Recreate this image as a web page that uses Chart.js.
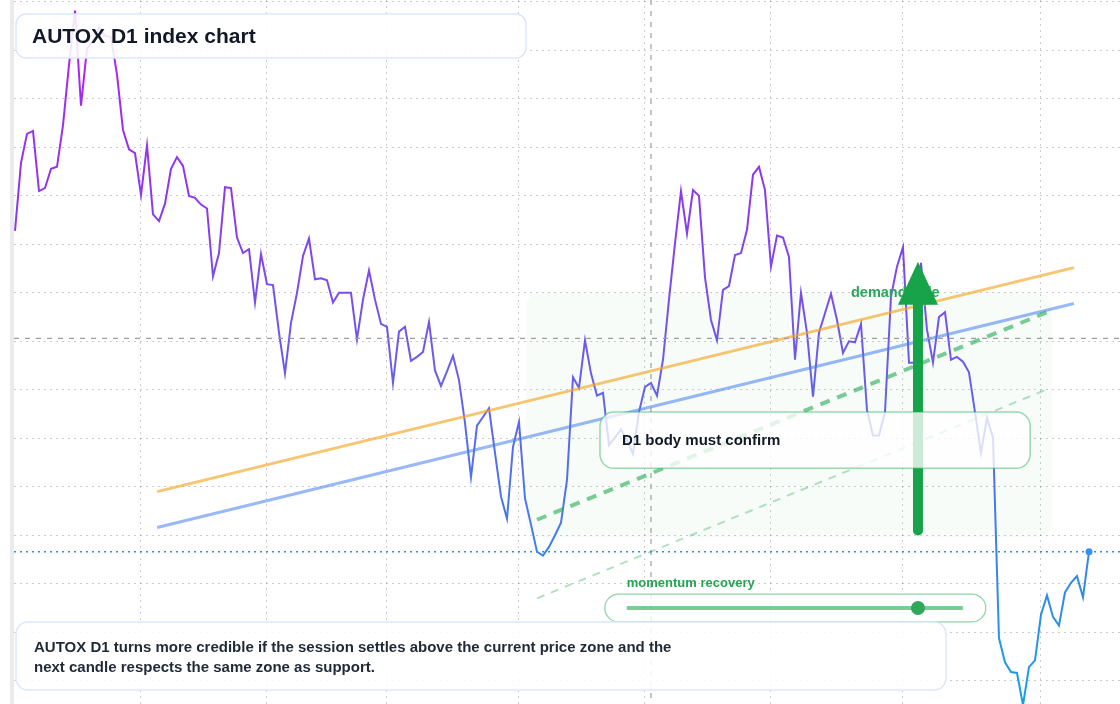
<!DOCTYPE html>
<html>
<head>
<meta charset="utf-8">
<title>AUTOX D1 index chart</title>
<script src="https://cdn.jsdelivr.net/npm/chart.js@4.4.1/dist/chart.umd.min.js"></script>
<style>
  html, body { margin: 0; padding: 0; background: #fff; }
  #wrap { position: relative; width: 1120px; height: 704px; overflow: hidden; }
  canvas { display: block; }
</style>
</head>
<body>
<div id="wrap"><canvas id="chart" width="1120" height="704"></canvas></div>
<script>
// daily closes, one per session
const closes = [
  1464, 1534, 1564, 1567, 1505, 1508, 1528, 1530, 1573, 1635,
  1691, 1593, 1652, 1659, 1674, 1665, 1664, 1625, 1568, 1548,
  1544, 1501, 1552, 1481, 1474, 1492, 1528, 1540, 1531, 1500,
  1498, 1491, 1487, 1417, 1441, 1509, 1508, 1457, 1441, 1445,
  1390, 1440, 1409, 1408, 1359, 1317, 1369, 1400, 1438, 1456,
  1414, 1415, 1413, 1390, 1400, 1400, 1400, 1352, 1393, 1423,
  1393, 1368, 1365, 1307, 1360, 1365, 1330, 1334, 1339, 1370,
  1320, 1304, 1319, 1335, 1310, 1266, 1210, 1263, 1272, 1281,
  1235, 1190, 1167, 1241, 1267, 1188, 1161, 1133, 1129, 1138,
  1150, 1163, 1207, 1313, 1302, 1351, 1317, 1294, 1297, 1243,
  1251, 1259, 1248, 1234, 1277, 1303, 1307, 1294, 1331, 1393,
  1451, 1505, 1461, 1506, 1500, 1416, 1372, 1351, 1403, 1407,
  1439, 1441, 1465, 1522, 1530, 1506, 1427, 1459, 1457, 1437,
  1331, 1400, 1359, 1293, 1359, 1379, 1399, 1372, 1338, 1350,
  1349, 1368, 1279, 1253, 1253, 1277, 1396, 1427, 1447, 1328,
  1328, 1431, 1362, 1328, 1375, 1380, 1331, 1334, 1329, 1318,
  1277, 1235, 1271, 1251, 1044, 1019, 1009, 1008, 975, 1014,
  1021, 1068, 1088, 1066, 1057, 1091, 1101, 1108, 1086, 1133
];

// session index where each month starts (vertical grid)
const monthTicks = [21, 42, 62, 84, 105, 126, 148, 171];
// price grid levels
const priceTicks = [1000, 1050, 1100, 1150, 1200, 1250, 1300, 1350, 1400, 1450, 1500, 1550, 1600, 1650, 1700];

// drawn levels: [session, price]
const upperTrend = [[23.7, 1195], [176.5, 1426]];
const lowerTrend = [[23.7, 1158], [176.5, 1389]];
const supportLine = [[87, 1166], [172, 1380]];
const supportFloor = [[87, 1085], [172.2, 1301]];
const demandZone = [[85.2, 1401], [172.8, 1148]];
const crossSession = 106;
const crossPrice = 1353;
const demandArrow = [[150.5, 1155], [150.5, 1432]];
const confirmBox = [[97.5, 1277], [169.2, 1219]];
const momentumBar = [[98.3, 1089.4], [161.8, 1060.6]];
const momentumValue = 150.5;

const titleText = 'AUTOX D1 index chart';
const noteLines = [
  'AUTOX D1 turns more credible if the session settles above the current price zone and the',
  'next candle respects the same zone as support.'
];

const FONT = '"Liberation Sans", Arial, Helvetica, sans-serif';

function lineGradient(context) {
  const chart = context.chart;
  const area = chart.chartArea;
  if (!area) return '#7c4dff';
  const g = chart.ctx.createLinearGradient(0, area.top, 0, area.bottom);
  g.addColorStop(0, '#b31ef3');
  g.addColorStop(0.28, '#8e37f0');
  g.addColorStop(0.52, '#6a5cec');
  g.addColorStop(0.78, '#3c80f2');
  g.addColorStop(1, '#11a2e8');
  return g;
}

function roundBox(ctx, x0, y0, x1, y1, r) {
  ctx.beginPath();
  ctx.moveTo(x0 + r, y0);
  ctx.arcTo(x1, y0, x1, y1, r);
  ctx.arcTo(x1, y1, x0, y1, r);
  ctx.arcTo(x0, y1, x0, y0, r);
  ctx.arcTo(x0, y0, x1, y0, r);
  ctx.closePath();
}

function segment(ctx, sx, sy, pts, color, width, dash) {
  ctx.beginPath();
  ctx.setLineDash(dash || []);
  ctx.strokeStyle = color;
  ctx.lineWidth = width;
  ctx.moveTo(sx.getPixelForValue(pts[0][0]), sy.getPixelForValue(pts[0][1]));
  ctx.lineTo(sx.getPixelForValue(pts[1][0]), sy.getPixelForValue(pts[1][1]));
  ctx.stroke();
}

const overlay = {
  id: 'overlay',
  beforeDatasetsDraw(chart) {
    const ctx = chart.ctx;
    const a = chart.chartArea;
    const sx = chart.scales.x, sy = chart.scales.y;
    ctx.save();
    ctx.fillStyle = '#ebebeb';
    ctx.fillRect(a.left - 4, 0, 4, chart.height);

    roundBox(ctx,
      sx.getPixelForValue(demandZone[0][0]), sy.getPixelForValue(demandZone[0][1]),
      sx.getPixelForValue(demandZone[1][0]), sy.getPixelForValue(demandZone[1][1]), 14);
    ctx.fillStyle = 'rgba(34, 170, 80, 0.035)';
    ctx.fill();
    ctx.restore();
  },
  afterDatasetsDraw(chart) {
    const ctx = chart.ctx;
    const a = chart.chartArea;
    const sx = chart.scales.x, sy = chart.scales.y;
    ctx.save();

    // trend channel
    segment(ctx, sx, sy, upperTrend, 'rgba(245, 166, 35, 0.65)', 3);
    segment(ctx, sx, sy, lowerTrend, 'rgba(70, 125, 240, 0.55)', 3);
    segment(ctx, sx, sy, supportLine, 'rgba(34, 170, 80, 0.6)', 4, [10, 8]);
    segment(ctx, sx, sy, supportFloor, 'rgba(34, 170, 80, 0.35)', 2, [8, 7]);

    // crosshair
    const cx = sx.getPixelForValue(crossSession);
    const cy = sy.getPixelForValue(crossPrice);
    ctx.setLineDash([5, 6]);
    ctx.strokeStyle = '#9e9e9e';
    ctx.lineWidth = 1.2;
    ctx.beginPath();
    ctx.moveTo(a.left, cy); ctx.lineTo(a.right, cy);
    ctx.moveTo(cx, a.top); ctx.lineTo(cx, a.bottom);
    ctx.stroke();

    // last price
    const ly = sy.getPixelForValue(closes[closes.length - 1]);
    ctx.setLineDash([2, 4]);
    ctx.strokeStyle = '#2a8cf0';
    ctx.lineWidth = 1.5;
    ctx.beginPath();
    ctx.moveTo(a.left, ly); ctx.lineTo(a.right, ly);
    ctx.stroke();
    ctx.setLineDash([]);

    // demand label and arrow
    const ax = sx.getPixelForValue(demandArrow[0][0]);
    const ay0 = sy.getPixelForValue(demandArrow[0][1]);
    const ay1 = sy.getPixelForValue(demandArrow[1][1]);
    ctx.font = 'bold 14.5px ' + FONT;
    ctx.fillStyle = '#27a85a';
    ctx.textBaseline = 'middle';
    ctx.fillText('demand side', ax - 67, ay1 + 31);

    ctx.strokeStyle = '#16a34a';
    ctx.lineWidth = 10;
    ctx.lineCap = 'round';
    ctx.beginPath();
    ctx.moveTo(ax, ay0);
    ctx.lineTo(ax, ay1 + 30);
    ctx.stroke();
    ctx.lineCap = 'butt';
    ctx.fillStyle = '#16a34a';
    ctx.beginPath();
    ctx.moveTo(ax, ay1);
    ctx.lineTo(ax + 20, ay1 + 43);
    ctx.lineTo(ax - 20, ay1 + 43);
    ctx.closePath();
    ctx.fill();

    // confirmation box
    const bx0 = sx.getPixelForValue(confirmBox[0][0]);
    const by0 = sy.getPixelForValue(confirmBox[0][1]);
    const bx1 = sx.getPixelForValue(confirmBox[1][0]);
    const by1 = sy.getPixelForValue(confirmBox[1][1]);
    roundBox(ctx, bx0, by0, bx1, by1, 14);
    ctx.fillStyle = 'rgba(255, 255, 255, 0.78)';
    ctx.fill();
    ctx.strokeStyle = 'rgba(34, 170, 80, 0.45)';
    ctx.lineWidth = 1.5;
    ctx.stroke();
    ctx.font = 'bold 15px ' + FONT;
    ctx.fillStyle = '#111827';
    ctx.fillText('D1 body must confirm', bx0 + 22, (by0 + by1) / 2 + 1);

    // momentum gauge
    const mx0 = sx.getPixelForValue(momentumBar[0][0]);
    const my0 = sy.getPixelForValue(momentumBar[0][1]);
    const mx1 = sx.getPixelForValue(momentumBar[1][0]);
    const my1 = sy.getPixelForValue(momentumBar[1][1]);
    ctx.font = 'bold 13px ' + FONT;
    ctx.fillStyle = '#22a553';
    ctx.fillText('momentum recovery', mx0 + 22, my0 - 11);
    roundBox(ctx, mx0, my0, mx1, my1, (my1 - my0) / 2);
    ctx.fillStyle = 'rgba(255, 255, 255, 0.8)';
    ctx.fill();
    ctx.strokeStyle = 'rgba(34, 170, 80, 0.5)';
    ctx.lineWidth = 1.3;
    ctx.stroke();
    const my = (my0 + my1) / 2;
    ctx.strokeStyle = 'rgba(34, 170, 80, 0.6)';
    ctx.lineWidth = 4;
    ctx.beginPath();
    ctx.moveTo(mx0 + 22, my);
    ctx.lineTo(mx1 - 23, my);
    ctx.stroke();
    ctx.fillStyle = '#2fa85a';
    ctx.beginPath();
    ctx.arc(sx.getPixelForValue(momentumValue), my, 7, 0, Math.PI * 2);
    ctx.fill();

    // title card
    roundBox(ctx, a.left + 2, 14, 526, 58, 10);
    ctx.fillStyle = 'rgba(255, 255, 255, 0.88)';
    ctx.fill();
    ctx.strokeStyle = '#dbe7fb';
    ctx.lineWidth = 1.5;
    ctx.stroke();
    ctx.font = 'bold 21px ' + FONT;
    ctx.fillStyle = '#111827';
    ctx.fillText(titleText, a.left + 18, 37);

    // note card
    roundBox(ctx, a.left + 2, 622, 946, 690, 12);
    ctx.fillStyle = 'rgba(255, 255, 255, 0.88)';
    ctx.fill();
    ctx.strokeStyle = '#dbe7fb';
    ctx.stroke();
    ctx.font = 'bold 15px ' + FONT;
    ctx.fillStyle = '#1f2937';
    noteLines.forEach((t, i) => ctx.fillText(t, a.left + 20, 648 + i * 20));

    ctx.restore();
  }
};

const gridStyle = {
  color: 'rgba(0, 0, 0, 0.2)',
  lineWidth: 1,
  drawTicks: false
};

new Chart(document.getElementById('chart'), {
  type: 'line',
  data: {
    datasets: [{
      data: closes.map((v, i) => ({ x: i, y: v })),
      borderColor: lineGradient,
      borderWidth: 2,
      tension: 0,
      pointRadius: ctx => ctx.dataIndex === closes.length - 1 ? 3.5 : 0,
      pointBackgroundColor: '#3b8ff0',
      pointBorderWidth: 0
    }]
  },
  options: {
    responsive: false,
    animation: false,
    layout: { autoPadding: false, padding: { left: 14, right: 0, top: 0, bottom: 0 } },
    plugins: { legend: { display: false }, tooltip: { enabled: false } },
    scales: {
      x: {
        type: 'linear',
        min: -1 / 6,
        max: 184.17,
        afterBuildTicks: s => { s.ticks = monthTicks.map(v => ({ value: v })); },
        ticks: { display: false },
        grid: gridStyle,
        border: { display: false, dash: [2, 4] }
      },
      y: {
        min: 976,
        max: 1702,
        afterBuildTicks: s => { s.ticks = priceTicks.map(v => ({ value: v })); },
        ticks: { display: false },
        grid: gridStyle,
        border: { display: false, dash: [2, 4] }
      }
    }
  },
  plugins: [overlay]
});
</script>
</body>
</html>
